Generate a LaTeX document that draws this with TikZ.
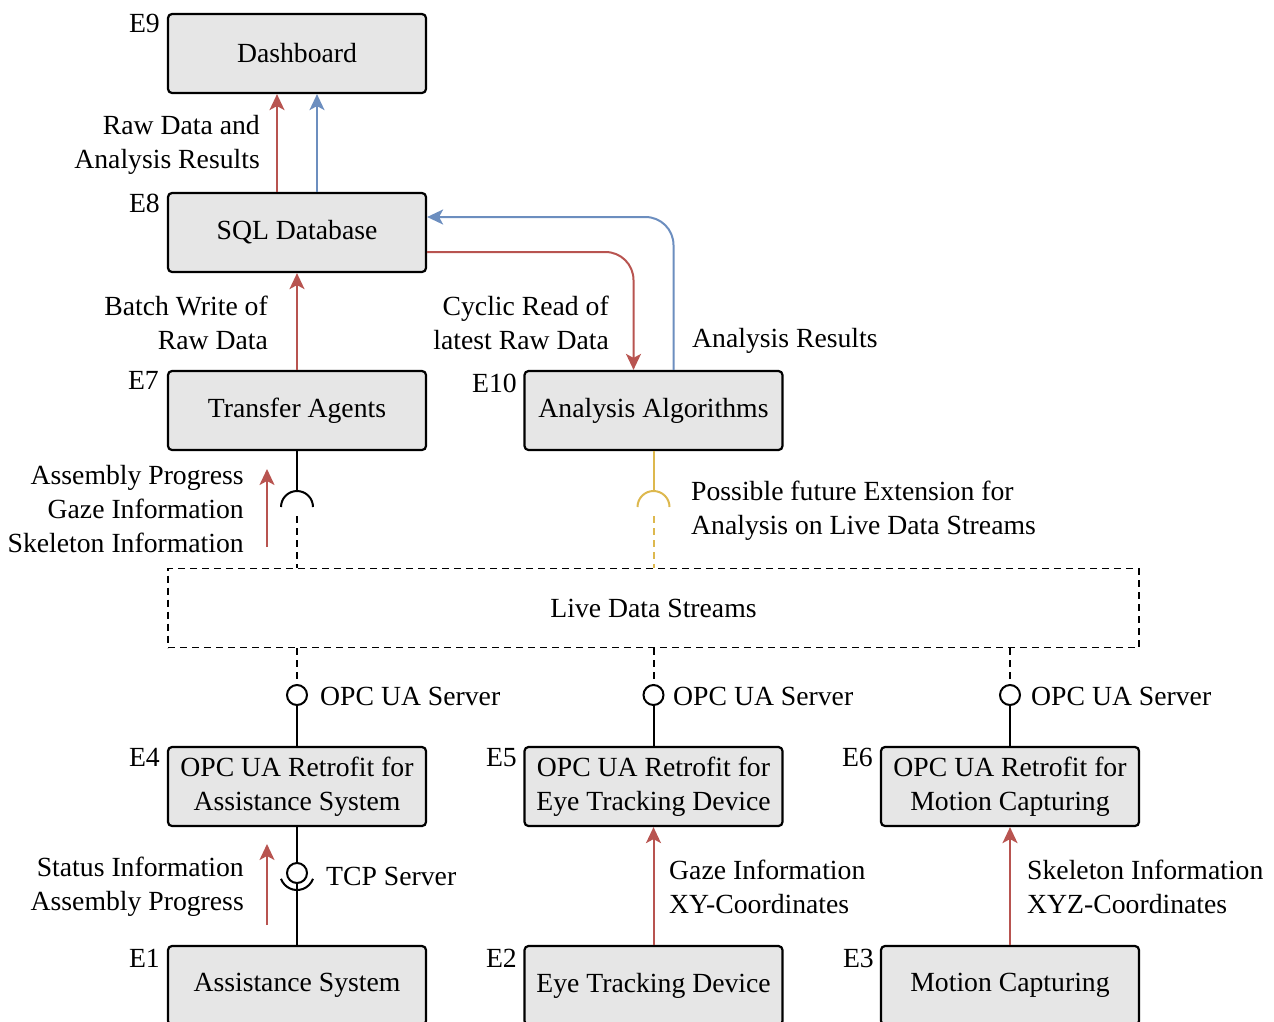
\documentclass[tikz,border=0pt]{standalone}
\usepackage{fontspec}
\setmainfont{Liberation Serif}
\usetikzlibrary{arrows.meta}
\definecolor{flowred}{HTML}{B85450}
\definecolor{flowblue}{HTML}{6C8EBF}
\definecolor{flowyellow}{HTML}{DDB84E}
\definecolor{boxfill}{HTML}{E6E6E6}
\begin{document}
\begin{tikzpicture}[x=1pt,y=1pt,
  font=\fontsize{27.7}{34}\selectfont,
  comp/.style={draw=black, line width=2.2pt, fill=boxfill, rounded corners=4pt,
    minimum width=258pt, minimum height=79pt, inner sep=0pt, align=center},
  livebox/.style={draw=black, line width=1.8pt, dash pattern=on 7pt off 5pt,
    minimum width=971pt, minimum height=79pt, inner sep=0pt},
  tag/.style={inner sep=0pt, anchor=base east},
  lbl/.style={inner sep=0pt, align=#1},
  lbl/.default=left,
  flow/.style={line width=2pt, -{Stealth[length=16pt, width=15pt, inset=4pt]}},
  wire/.style={line width=2pt, black},
  dwire/.style={line width=2pt, black, dash pattern=on 7pt off 5pt},
  ball/.style={circle, draw=black, line width=2pt, minimum size=20pt, inner sep=0pt},
]
\useasboundingbox (0,0) rectangle (1274,-1021);
\clip (0,0) rectangle (1274,-1021);

% component boxes
\node[comp] (e9)  at (297,-53.5)  {Dashboard};
\node[comp] (e8)  at (297,-232.5) {SQL Database};
\node[comp] (e7)  at (297,-410.5) {Transfer Agents};
\node[comp] (e10) at (653.5,-410.5) {Analysis Algorithms};
\node[livebox] (live) at (653.5,-608) {Live Data Streams};
\node[comp] (e4)  at (297,-786.5)  {OPC UA Retrofit for\\Assistance System};
\node[comp] (e5)  at (653.5,-786.5) {OPC UA Retrofit for\\Eye Tracking Device};
\node[comp] (e6)  at (1010,-786.5)  {OPC UA Retrofit for\\Motion Capturing};
\node[comp] (e1)  at (297,-985.5)  {Assistance System};
\node[comp] (e2)  at (653.5,-985.5) {Eye Tracking Device};
\node[comp] (e3)  at (1010,-985.5)  {Motion Capturing};

% element tags
\node[tag] (t9)  at (160,-32)  {E9};
\node[tag] (t8)  at (160,-212) {E8};
\node[tag] (t7)  at (159,-389) {E7};
\node[tag] (t10) at (517,-392) {E10};
\node[tag] (t4)  at (160,-766) {E4};
\node[tag] (t5)  at (517,-766) {E5};
\node[tag] (t6)  at (873,-766) {E6};
\node[tag] (t1)  at (160,-967) {E1};
\node[tag] (t2)  at (517,-967) {E2};
\node[tag] (t3)  at (874,-967) {E3};

% database to dashboard
\draw[flow, flowred]  ([xshift=-20pt]e8.north) -- ([xshift=-20pt]e9.south);
\draw[flow, flowblue] ([xshift=20pt]e8.north) -- ([xshift=20pt]e9.south);
\node[lbl=right, anchor=east] (l98) at (260,-144.5) {Raw Data and\\Analysis Results};

% transfer agents to database
\draw[flow, flowred] (e7.north) -- (e8.south);
\node[lbl=right, anchor=east] (l87) at (268,-322.5) {Batch Write of\\Raw Data};

% database <-> analysis
\draw[flow, flowred, rounded corners=28pt] ([yshift=-19.5pt]e8.east) -| ([xshift=-20pt]e10.north);
\draw[flow, flowblue, rounded corners=28pt] ([xshift=20pt]e10.north) |- ([yshift=15.5pt]e8.east);
\node[lbl=right, anchor=east] (lcy) at (609,-322.5) {Cyclic Read of\\latest Raw Data};
\node[lbl, anchor=west] (lar) at (692,-340.5) {Analysis Results};

% transfer agents socket to live data streams
\coordinate (s7) at (297,-507);
\draw[wire] (e7.south) -- ([yshift=16pt]s7);
\draw[wire] ([xshift=-16pt]s7) arc[start angle=180, end angle=0, radius=16pt];
\draw[dwire] ([yshift=-9pt]s7) -- (live.north -| s7);
\draw[flow, flowred] (267,-547) -- (267,-469);
\node[lbl=right, anchor=east] (lst) at (244,-509.5) {Assembly Progress\\Gaze Information\\Skeleton Information};

% analysis socket (future extension)
\coordinate (s10) at (653.5,-507);
\draw[wire, flowyellow] (e10.south) -- ([yshift=16pt]s10);
\draw[wire, flowyellow] ([xshift=-16pt]s10) arc[start angle=180, end angle=0, radius=16pt];
\draw[dwire, flowyellow] ([yshift=-9pt]s10) -- (live.north -| s10);
\node[lbl, anchor=west] (lfx) at (691,-510.5) {Possible future Extension for\\Analysis on Live Data Streams};

% OPC UA server interfaces
\node[ball] (b4) at (297,-695) {};
\node[ball] (b5) at (653.5,-695) {};
\node[ball] (b6) at (1010,-695) {};
\foreach \b/\e in {b4/e4, b5/e5, b6/e6} {
  \draw[dwire] (live.south -| \b) -- (\b.north);
  \draw[wire] (\b.south) -- (\e.north);
}
\node[lbl, anchor=west] (o4) at (320,-696.5) {OPC UA Server};
\node[lbl, anchor=west] (o5) at (673,-696.5) {OPC UA Server};
\node[lbl, anchor=west] (o6) at (1031,-696.5) {OPC UA Server};

% TCP server between assistance system and its retrofit
\node[ball] (bt) at (297,-873) {};
\draw[wire] (e1.north) -- (bt.south);
\draw[wire] (bt.north) -- (e4.south);
\draw[wire] ([shift={(200:17pt)}]bt.center) arc[start angle=200, end angle=340, radius=17pt];
\node[lbl, anchor=west] (tcp) at (326,-876.5) {TCP Server};
\draw[flow, flowred] (267,-925) -- (267,-844);
\node[lbl=right, anchor=east] (lsi) at (244,-886.5) {Status Information\\Assembly Progress};

% sensor devices to retrofits
\draw[flow, flowred] (e2.north) -- (e5.south);
\draw[flow, flowred] (e3.north) -- (e6.south);
\node[lbl, anchor=west] (lgz) at (669,-886.5) {Gaze Information\\XY-Coordinates};
\node[lbl, anchor=west] (lsk) at (1027,-886.5) {Skeleton Information\\XYZ-Coordinates};
\end{tikzpicture}
\end{document}
